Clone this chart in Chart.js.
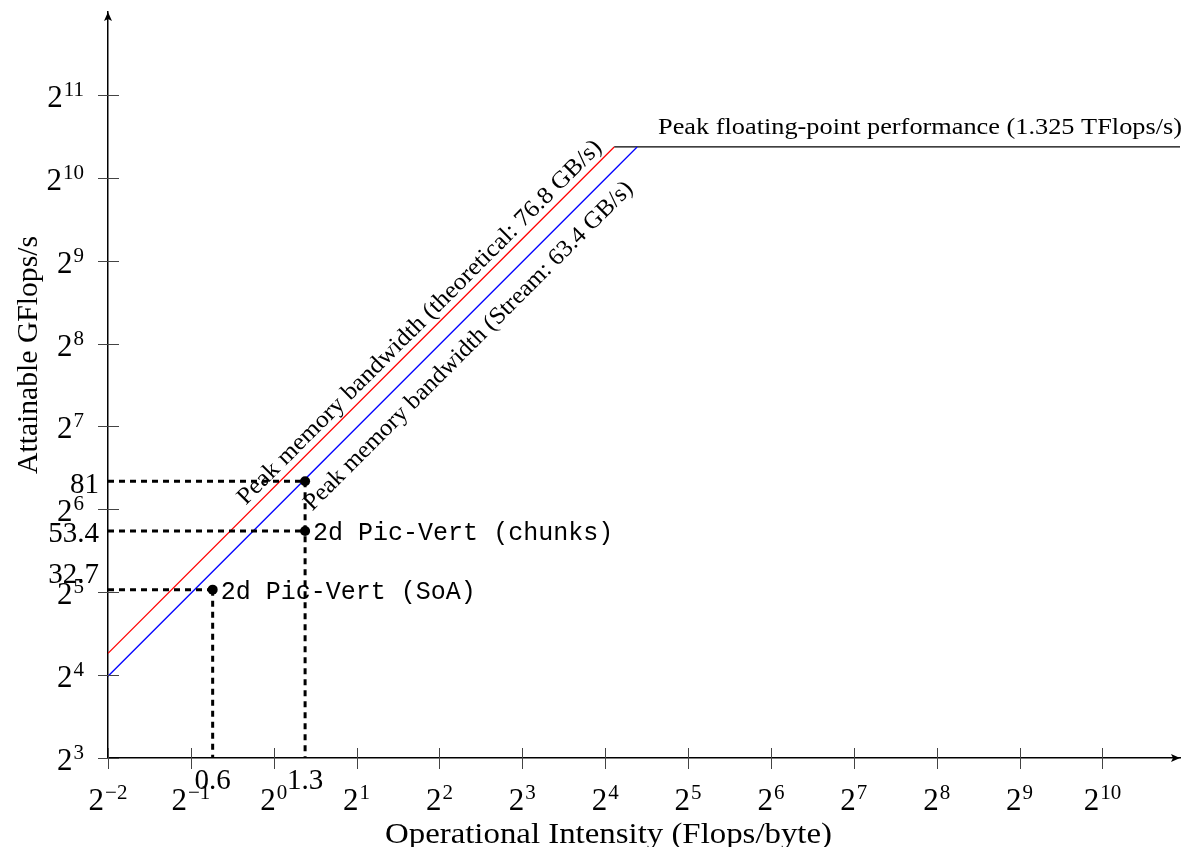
<!DOCTYPE html>
<html><head><meta charset="utf-8">
<script src="https://cdn.jsdelivr.net/npm/chart.js@4"></script>
<style>html,body{margin:0;padding:0;background:#fff}#wrap{width:1185px;height:847px}</style>
</head><body><div id="wrap"><canvas id="c" width="1185" height="847"></canvas></div>
<script>
// ---- data ----
const xTickExponents = [-2,-1,0,1,2,3,4,5,6,7,8,9,10];
const yTickExponents = [3,4,5,6,7,8,9,10,11];
const xRange = [0.25, 1960];
const yRange = [8, 4096];
const peakFlops = 1325;            // GFlops/s
const bandwidthTheoretical = 76.8; // GB/s
const bandwidthStream = 63.4;      // GB/s
const roofTheoreticalX = [0.25, 17.25];
const roofTheoreticalY = [19.2, 1325];
const roofStreamX = [0.25, 20.9];
const roofStreamY = [15.85, 1325];
const roofPeakX = [17.25, 1960];
const roofPeakY = [1325, 1325];
const kernelNames = ['2d Pic-Vert (SoA)', '2d Pic-Vert (chunks)', ''];
const kernelIntensity = [0.6, 1.3, 1.3];
const kernelPerf = [32.7, 53.4, 81];
const intensityTickLabels = ['0.6', '1.3'];
const intensityTickValues = [0.6, 1.3];
const perfTickLabels = ['81', '53.4', '32.7'];
const perfTickValues = [81, 53.4, 32.7];
const xTitle = 'Operational Intensity (Flops/byte)';
const yTitle = 'Attainable GFlops/s';
const peakLabel = 'Peak floating-point performance (1.325 TFlops/s)';
const theoLabel = 'Peak memory bandwidth (theoretical: 76.8 GB/s)';
const streamLabel = 'Peak memory bandwidth (Stream: 63.4 GB/s)';

const SERIF = '"Liberation Serif", "DejaVu Serif", serif';
const MONO = '"Liberation Mono", "DejaVu Sans Mono", monospace';

function pts(xs, ys){ return xs.map((x,i)=>({x, y: ys[i]})); }

const datasets = [];
datasets.push({data: pts(roofTheoreticalX, roofTheoreticalY), borderColor:'#ff0000', borderWidth:1.3, showLine:true, pointRadius:0, order:3});
datasets.push({data: pts(roofStreamX, roofStreamY), borderColor:'#0000ff', borderWidth:1.3, showLine:true, pointRadius:0, order:3});
datasets.push({data: pts(roofPeakX, roofPeakY), borderColor:'#000000', borderWidth:1.3, showLine:true, pointRadius:0, order:3});
const dashStyle = {borderColor:'#000', borderWidth:3, borderDash:[6,5], showLine:true, pointRadius:0, order:2};
// horizontal guides from the y axis to each point
kernelIntensity.forEach((xi, i) => {
  datasets.push(Object.assign({data: [{x: xRange[0], y: kernelPerf[i]}, {x: xi, y: kernelPerf[i]}]}, dashStyle));
});
// one vertical guide per distinct intensity, from the highest point down to the x axis
[...new Set(kernelIntensity)].forEach(xi => {
  const top = Math.max(...kernelPerf.filter((p, i) => kernelIntensity[i] === xi));
  datasets.push(Object.assign({data: [{x: xi, y: top}, {x: xi, y: yRange[0]}]}, dashStyle));
});
datasets.push({data: pts(kernelIntensity, kernelPerf), showLine:false, pointRadius:5, pointBackgroundColor:'#000', pointBorderColor:'#000', pointBorderWidth:0, order:1});

function drawStretched(ctx, text, x, y, width, font){
  ctx.font = font;
  const w = ctx.measureText(text).width;
  ctx.save();
  ctx.translate(x, y);
  ctx.scale(width / w, 1);
  ctx.textAlign = 'left';
  ctx.fillText(text, 0, 0);
  ctx.restore();
}

function powLabel(ctx, exp, x, y, align){
  const base = '2';
  const e = exp < 0 ? '\u2212' + (-exp) : String(exp);
  ctx.font = '31px ' + SERIF;
  const wb = ctx.measureText(base).width;
  ctx.font = '21px ' + SERIF;
  const we = ctx.measureText(e).width;
  const total = wb + we + 1;
  const left = align === 'center' ? x - total/2 : x - total;
  ctx.textAlign = 'left';
  ctx.textBaseline = 'alphabetic';
  ctx.font = '31px ' + SERIF;
  ctx.fillText(base, left, y);
  ctx.font = '21px ' + SERIF;
  ctx.fillText(e, left + wb + 1, y - 11);
}

const decorations = {
  id: 'decorations',
  afterDraw(chart){
    const ctx = chart.ctx;
    const xs = chart.scales.x, ys = chart.scales.y;
    const area = chart.chartArea;
    const x0 = area.left, y0 = area.bottom;
    ctx.save();
    ctx.fillStyle = '#000';
    ctx.strokeStyle = '#000';
    // arrows
    ctx.beginPath();
    ctx.moveTo(area.right, y0); ctx.lineTo(area.right - 9, y0 - 4); ctx.lineTo(area.right - 7, y0); ctx.lineTo(area.right - 9, y0 + 4); ctx.closePath(); ctx.fill();
    ctx.beginPath();
    ctx.moveTo(x0, area.top); ctx.lineTo(x0 - 4, area.top + 9); ctx.lineTo(x0, area.top + 7); ctx.lineTo(x0 + 4, area.top + 9); ctx.closePath(); ctx.fill();
    // crossing tick marks
    ctx.lineWidth = 1;
    ctx.strokeStyle = '#444';
    xs.ticks.forEach(t => {
      const px = Math.round(xs.getPixelForValue(t.value)) + 0.5;
      ctx.beginPath(); ctx.moveTo(px, y0 - 10); ctx.lineTo(px, y0 + 11); ctx.stroke();
    });
    ys.ticks.forEach(t => {
      const py = Math.round(ys.getPixelForValue(t.value)) + 0.5;
      ctx.beginPath(); ctx.moveTo(x0 - 10, py); ctx.lineTo(x0 + 11, py); ctx.stroke();
    });
    ctx.fillStyle = '#000';
    // tick labels
    xs.ticks.forEach((t, i) => {
      powLabel(ctx, xTickExponents[i], xs.getPixelForValue(t.value), 810, 'center');
    });
    ys.ticks.forEach((t, i) => {
      powLabel(ctx, yTickExponents[i], 84, ys.getPixelForValue(t.value) + 12, 'right');
    });
    // extra value labels
    ctx.font = '29px ' + SERIF;
    ctx.textAlign = 'center';
    ctx.textBaseline = 'alphabetic';
    intensityTickValues.forEach((v, i) => {
      ctx.fillText(intensityTickLabels[i], xs.getPixelForValue(v), 789);
    });
    ctx.textAlign = 'right';
    const perfShift = {'81': 12, '53.4': 11, '32.7': -7};
    perfTickValues.forEach((v, i) => {
      ctx.fillText(perfTickLabels[i], 99, ys.getPixelForValue(v) + perfShift[perfTickLabels[i]]);
    });
    // kernel labels
    ctx.font = '25px ' + MONO;
    ctx.textAlign = 'left';
    kernelNames.forEach((n, i) => {
      if (!n) return;
      ctx.fillText(n, xs.getPixelForValue(kernelIntensity[i]) + 8, ys.getPixelForValue(kernelPerf[i]) + 9);
    });
    // axis titles
    drawStretched(ctx, xTitle, 385, 843, 447, '29px ' + SERIF);
    ctx.save();
    ctx.translate(37, 474);
    ctx.rotate(-Math.PI/2);
    drawStretched(ctx, yTitle, 0, 0, 238, '29px ' + SERIF);
    ctx.restore();
    // peak label
    drawStretched(ctx, peakLabel, 658, 134, 524, '24px ' + SERIF);
    // sloped labels
    function sloped(text, bw, xc, offset, width){
      const xa = xc / 1.5, xb = xc * 1.5;
      const pax = xs.getPixelForValue(xa), pay = ys.getPixelForValue(bw * xa);
      const pbx = xs.getPixelForValue(xb), pby = ys.getPixelForValue(bw * xb);
      const ang = Math.atan2(pby - pay, pbx - pax);
      const cx = xs.getPixelForValue(xc), cy = ys.getPixelForValue(bw * xc);
      ctx.save();
      ctx.translate(cx, cy);
      ctx.rotate(ang);
      drawStretched(ctx, text, -width/2, offset, width, '24px ' + SERIF);
      ctx.restore();
    }
    sloped(theoLabel, bandwidthTheoretical, 3.67, -7, 505);
    sloped(streamLabel, bandwidthStream, 4.49, 28, 455);
    ctx.restore();
  }
};

new Chart(document.getElementById('c'), {
  type: 'scatter',
  data: { datasets },
  options: {
    responsive: false,
    animation: false,
    devicePixelRatio: 1,
    events: [],
    layout: { padding: { top: 12, right: 0, left: 0, bottom: 0 } },
    plugins: { legend: { display: false }, tooltip: { enabled: false } },
    scales: {
      x: {
        type: 'logarithmic', min: xRange[0], max: xRange[1],
        afterBuildTicks: s => { s.ticks = xTickExponents.map(e => ({ value: Math.pow(2, e) })); },
        afterFit: s => { s.height = 89; },
        ticks: { display: false },
        grid: { display: false },
        border: { display: true, color: '#000', width: 1.5 }
      },
      y: {
        type: 'logarithmic', min: yRange[0], max: yRange[1],
        afterBuildTicks: s => { s.ticks = yTickExponents.map(e => ({ value: Math.pow(2, e) })); },
        afterFit: s => { s.width = 108; },
        ticks: { display: false },
        grid: { display: false },
        border: { display: true, color: '#000', width: 1.5 }
      }
    }
  },
  plugins: [decorations]
});
</script>
</body></html>
